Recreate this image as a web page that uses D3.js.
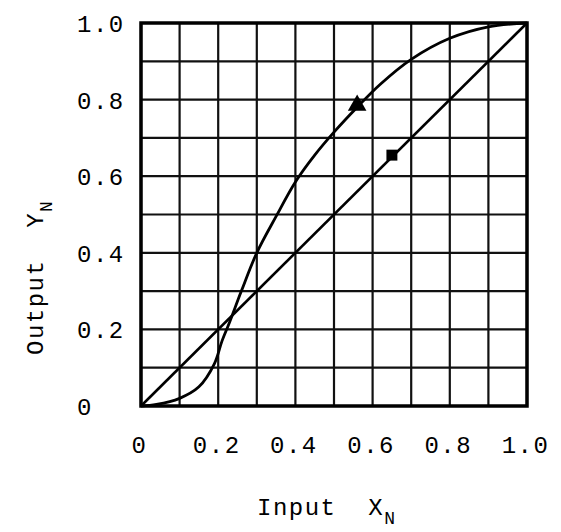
<!DOCTYPE html>
<html>
<head>
<meta charset="utf-8">
<script src="https://cdn.jsdelivr.net/npm/d3@7"></script>
<style>
  html, body { margin: 0; padding: 0; background: #fff; }
  svg text { font-family: "Liberation Mono", "Courier New", monospace; fill: #000; }
</style>
</head>
<body>
<svg id="chart" width="561" height="532"></svg>
<script>
// ---- data ----
const xTickValues = [0, 0.2, 0.4, 0.6, 0.8, 1.0];
const xTickLabels = ["0", "0.2", "0.4", "0.6", "0.8", "1.0"];
const yTickValues = [0, 0.2, 0.4, 0.6, 0.8, 1.0];
const yTickLabels = ["0", "0.2", "0.4", "0.6", "0.8", "1.0"];
const gridValues = [0, 0.1, 0.2, 0.3, 0.4, 0.5, 0.6, 0.7, 0.8, 0.9, 1.0];

// S-shaped transfer curve
const curveX = [0, 0.04, 0.1, 0.15, 0.19, 0.21, 0.23, 0.26, 0.3, 0.35, 0.4, 0.45, 0.5, 0.56, 0.62, 0.7, 0.8, 0.9, 1.0];
const curveY = [0, 0.004, 0.02, 0.05, 0.11, 0.17, 0.22, 0.3, 0.4, 0.495, 0.585, 0.655, 0.715, 0.78, 0.84, 0.905, 0.96, 0.99, 1.0];
// linear (identity) line
const lineX = [0, 1.0];
const lineY = [0, 1.0];
// markers
const triangleMarker = [0.56, 0.785];
const squareMarker = [0.65, 0.655];

// ---- layout ----
const svg = d3.select("#chart");
const margin = { left: 141, top: 23 };
const W = 386, H = 383;
const x = d3.scaleLinear().domain([0, 1]).range([0, W]);
const y = d3.scaleLinear().domain([0, 1]).range([H, 0]);
const g = svg.append("g").attr("transform", `translate(${margin.left},${margin.top})`);

// grid
g.append("g").selectAll("line").data(gridValues).join("line")
  .attr("x1", d => x(d)).attr("x2", d => x(d))
  .attr("y1", 0).attr("y2", H)
  .attr("stroke", "#111").attr("stroke-width", 2.2);
g.append("g").selectAll("line").data(gridValues).join("line")
  .attr("x1", 0).attr("x2", W)
  .attr("y1", d => y(d)).attr("y2", d => y(d))
  .attr("stroke", "#111").attr("stroke-width", 2.2);
// frame
g.append("rect").attr("x", 0).attr("y", 0).attr("width", W).attr("height", H)
  .attr("fill", "none").attr("stroke", "#000").attr("stroke-width", 3.5);

// x axis labels
const xAxis = d3.axisBottom(x).tickValues(xTickValues)
  .tickFormat((d, i) => xTickLabels[i]).tickSize(0).tickPadding(30);
const gx = g.append("g").attr("transform", `translate(0,${H})`).call(xAxis);
gx.select(".domain").remove();
gx.selectAll("text").attr("font-size", 24).attr("letter-spacing", 1.5)
  .attr("font-family", "Liberation Mono, monospace").attr("fill", "#000").attr("dx", "-2");

// y axis labels (left aligned as in reference)
const yAxis = d3.axisLeft(y).tickValues(yTickValues)
  .tickFormat((d, i) => yTickLabels[i]).tickSize(0).tickPadding(64);
const gy = g.append("g").call(yAxis);
gy.select(".domain").remove();
gy.selectAll("text").attr("font-size", 24).attr("letter-spacing", 1.5)
  .attr("font-family", "Liberation Mono, monospace").attr("fill", "#000")
  .attr("text-anchor", "start").attr("dy", "0.35em");

// lines
const lineGen = d3.line().x(d => x(d[0])).y(d => y(d[1]));
g.append("path").datum(lineX.map((v, i) => [v, lineY[i]]))
  .attr("d", lineGen).attr("fill", "none").attr("stroke", "#000").attr("stroke-width", 2.6);
const curveGen = d3.line().x(d => x(d[0])).y(d => y(d[1])).curve(d3.curveCatmullRom.alpha(0.5));
g.append("path").datum(curveX.map((v, i) => [v, curveY[i]]))
  .attr("d", curveGen).attr("fill", "none").attr("stroke", "#000").attr("stroke-width", 2.8);

// markers
g.append("path").attr("d", d3.symbol().type(d3.symbolTriangle).size(150)())
  .attr("transform", `translate(${x(triangleMarker[0])},${y(triangleMarker[1])})`).attr("fill", "#000");
g.append("path").attr("d", d3.symbol().type(d3.symbolSquare).size(120)())
  .attr("transform", `translate(${x(squareMarker[0])},${y(squareMarker[1])})`).attr("fill", "#000");

// axis titles
const xt = svg.append("text").attr("x", 257).attr("y", 515)
  .attr("font-size", 24).attr("letter-spacing", 1.5);
xt.append("tspan").text("Input\u00a0\u00a0X");
xt.append("tspan").attr("dx", 0).attr("dy", 9).attr("font-size", 18).text("N");

const yt = svg.append("text").attr("transform", "translate(43,355) rotate(-90)")
  .attr("font-size", 24).attr("letter-spacing", 1.5);
yt.append("tspan").text("Output\u00a0\u00a0Y");
yt.append("tspan").attr("dx", 0).attr("dy", 9).attr("font-size", 18).text("N");
</script>
</body>
</html>
